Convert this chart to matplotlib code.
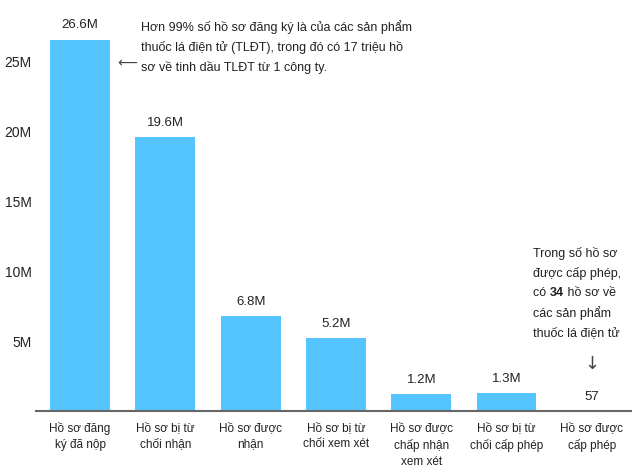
import matplotlib
matplotlib.use("Agg")
import matplotlib.pyplot as plt

# Data: number of applications by stage
categories = [
    "Hồ sơ đăng\nký đã nộp",
    "Hồ sơ bị từ\nchối nhận",
    "Hồ sơ được\nnhận",
    "Hồ sơ bị từ\nchối xem xét",
    "Hồ sơ được\nchấp nhận\nxem xét",
    "Hồ sơ bị từ\nchối cấp phép",
    "Hồ sơ được\ncấp phép",
]
values = [26.6e6, 19.6e6, 6.8e6, 5.2e6, 1.2e6, 1.3e6, 57]
value_labels = ["26.6M", "19.6M", "6.8M", "5.2M", "1.2M", "1.3M", "57"]
yticks = [5e6, 10e6, 15e6, 20e6, 25e6]
ytick_labels = ["5M", "10M", "15M", "20M", "25M"]

note_top = [
    "Hơn 99% số hồ sơ đăng ký là của các sản phẩm",
    "thuốc lá điện tử (TLĐT), trong đó có 17 triệu hồ",
    "sơ về tinh dầu TLĐT từ 1 công ty.",
]
note_right = ["Trong số hồ sơ", "được cấp phép,", None, "các sản phẩm", "thuốc lá điện tử"]

plt.rcParams["font.family"] = ["Liberation Sans", "DejaVu Sans"]
text_color = "#222222"
bar_color = "#55C5FF"

fig = plt.figure(figsize=(6.32, 4.67), dpi=100)
ax = fig.add_axes([36 / 632, 1 - 411 / 467, 596 / 632, 411 / 467])

x = list(range(len(categories)))
ax.bar(x, values, width=0.7, color=bar_color, zorder=2)

# value labels above bars
for xi, v, lab in zip(x, values, value_labels):
    ax.annotate(lab, (xi, v), textcoords="offset points", xytext=(0, 6),
                ha="center", va="bottom", fontsize=9.5, color=text_color)

ax.set_xlim(-0.516, 6.47)
ax.set_ylim(0, 29.44e6)
ax.set_yticks(yticks)
ax.set_yticklabels(ytick_labels)
ax.set_xticks(x)
ax.set_xticklabels(categories, linespacing=1.45)
ax.tick_params(axis="both", length=0, labelcolor=text_color)
ax.tick_params(axis="x", pad=8, labelsize=8.5)
ax.tick_params(axis="y", pad=3, labelsize=10)

for side in ["top", "right", "left"]:
    ax.spines[side].set_visible(False)
ax.spines["bottom"].set_color("#666666")
ax.spines["bottom"].set_linewidth(1.5)
ax.spines["bottom"].set_zorder(3)

# note next to the first bar
for i, line in enumerate(note_top):
    ax.text(0.715, 27.5e6 - i * 1.43e6, line, ha="left", va="center",
            fontsize=9, color=text_color)
ax.text(0.55, 24.9e6, "⟵", ha="center", va="center", fontsize=10,
        color="#444444", family="DejaVu Sans")

# note above the last bar
note_x = 5.31
for i, line in enumerate(note_right):
    yy = 11.3e6 - i * 1.43e6
    if line is None:
        t = ax.text(note_x, yy, "có ", ha="left", va="center", fontsize=9, color=text_color)
        t2 = ax.annotate("34", xy=(1, 0.5), xycoords=t, ha="left", va="center",
                         fontsize=9, color=text_color, weight="bold")
        ax.annotate(" hồ sơ về", xy=(1, 0.5), xycoords=t2, ha="left", va="center",
                    fontsize=9, color=text_color)
    else:
        ax.text(note_x, yy, line, ha="left", va="center", fontsize=9, color=text_color)
ax.text(6.0, 3.35e6, "↓", ha="center", va="center", fontsize=13,
        color="#444444", family="DejaVu Sans")

fig.savefig("out.png", dpi=100)
